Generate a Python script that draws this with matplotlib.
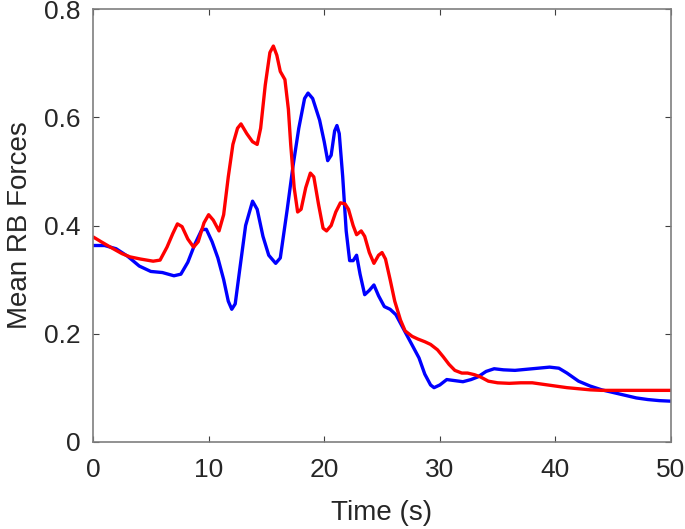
import matplotlib
matplotlib.use("Agg")
from matplotlib import pyplot as plt

# blue series (time s, mean force)
blue_t = [0, 1, 2, 3, 4, 5, 6, 7, 7.6, 8.2, 8.8, 9.4, 9.8, 10.3, 10.8, 11.3, 11.7, 12.0,
          12.3, 12.7, 13.2, 13.8, 14.2, 14.7, 15.2, 15.8, 16.2, 16.8, 17.3, 17.8, 18.3,
          18.6, 19.0, 19.6, 20.0, 20.3, 20.6, 20.9, 21.1, 21.3, 21.6, 21.9, 22.2, 22.5,
          22.8, 23.1, 23.5, 23.9, 24.3, 24.7, 25.2, 25.7, 26.2, 26.7, 27.2, 27.7, 28.2,
          28.7, 29.2, 29.5, 30.0, 30.6, 31.3, 32.0, 32.7, 33.3, 34.0, 34.7, 35.5, 36.5,
          37.5, 38.5, 39.5, 40.3, 41, 42, 43, 44, 45, 46, 47, 48, 49, 50]
blue_y = [0.363, 0.363, 0.357, 0.343, 0.325, 0.315, 0.313, 0.307, 0.31, 0.332, 0.365,
          0.392, 0.393, 0.37, 0.34, 0.3, 0.26, 0.245, 0.255, 0.32, 0.4, 0.445, 0.43,
          0.38, 0.345, 0.33, 0.34, 0.43, 0.51, 0.58, 0.635, 0.645, 0.635, 0.595, 0.555,
          0.52, 0.53, 0.575, 0.585, 0.57, 0.49, 0.39, 0.335, 0.335, 0.345, 0.31, 0.272,
          0.28, 0.29, 0.27, 0.25, 0.245, 0.235, 0.215, 0.195, 0.175, 0.155, 0.125, 0.105,
          0.1, 0.105, 0.115, 0.113, 0.111, 0.115, 0.12, 0.13, 0.135, 0.133, 0.132, 0.134,
          0.136, 0.138, 0.136, 0.127, 0.112, 0.103, 0.096, 0.091, 0.086, 0.081, 0.078,
          0.076, 0.075]

# red series
red_t = [0, 0.7, 1.5, 2.5, 3.2, 4.1, 5.2, 5.8, 6.4, 6.9, 7.3, 7.7, 8.2, 8.7, 9.1, 9.6,
         10.0, 10.4, 10.9, 11.3, 11.7, 12.1, 12.5, 12.8, 13.3, 13.8, 14.2, 14.5, 14.9,
         15.3, 15.6, 15.9, 16.2, 16.6, 16.9, 17.1, 17.4, 17.7, 18.0, 18.4, 18.8, 19.1,
         19.5, 19.9, 20.2, 20.6, 21.0, 21.4, 21.8, 22.1, 22.5, 22.8, 23.2, 23.5, 23.9,
         24.3, 24.7, 25.0, 25.3, 25.7, 26.1, 26.6, 27.0, 27.6, 28.1, 28.7, 29.2, 29.8,
         30.3, 30.8, 31.3, 31.9, 32.4, 33.0, 33.5, 34.2, 35, 36, 37, 38, 39, 40, 41, 42,
         43, 44, 45, 46, 47, 48, 49, 50]
red_y = [0.379, 0.37, 0.36, 0.348, 0.342, 0.338, 0.334, 0.336, 0.36, 0.385, 0.403, 0.398,
         0.375, 0.36, 0.37, 0.405, 0.42, 0.41, 0.39, 0.42, 0.49, 0.55, 0.58, 0.588, 0.57,
         0.555, 0.55, 0.58, 0.66, 0.72, 0.732, 0.715, 0.685, 0.67, 0.615, 0.55, 0.47,
         0.425, 0.43, 0.47, 0.497, 0.49, 0.44, 0.395, 0.39, 0.4, 0.425, 0.442, 0.44, 0.43,
         0.4, 0.383, 0.39, 0.38, 0.35, 0.33, 0.345, 0.35, 0.338, 0.3, 0.26, 0.225, 0.205,
         0.195, 0.19, 0.185, 0.18, 0.17, 0.157, 0.143, 0.132, 0.127, 0.127, 0.124, 0.12,
         0.112, 0.109, 0.108, 0.109, 0.109, 0.106, 0.103, 0.1, 0.098, 0.096, 0.095, 0.095,
         0.095, 0.095, 0.095, 0.095, 0.095]

x_ticks = [0, 10, 20, 30, 40, 50]
y_ticks = [0, 0.2, 0.4, 0.6, 0.8]
y_labels = ["0", "0.2", "0.4", "0.6", "0.8"]

plt.rcParams['font.family'] = ['Liberation Sans', 'DejaVu Sans']

fig = plt.figure(figsize=(6.85, 5.29), dpi=100)
ax = fig.add_axes([0.1358, 0.165, 0.8438, 0.8174])

ax.plot(blue_t, blue_y, color='#0000ff', lw=2.4, solid_joinstyle='round', solid_capstyle='round')
ax.plot(red_t, red_y, color='#ff0000', lw=2.4, solid_joinstyle='round', solid_capstyle='round')

ax.set_xlim(0, 50)
ax.set_ylim(0, 0.8)
ax.set_xticks(x_ticks)
ax.set_yticks(y_ticks)
ax.set_yticklabels(y_labels)

dark = '#262626'
for s in ax.spines.values():
    s.set_color('#7f7f7f')
    s.set_linewidth(1.2)
ax.tick_params(direction='in', length=4, width=0.8, color='#404040',
               labelsize=19, labelcolor=dark, top=True, right=True)
ax.tick_params(axis='x', pad=12)
ax.tick_params(axis='y', pad=9)
ax.set_xlabel("Time (s)", fontsize=20, color=dark, labelpad=13)
ax.set_ylabel("Mean RB Forces", fontsize=20, color=dark, labelpad=8)

fig.savefig("out.png", dpi=100)
